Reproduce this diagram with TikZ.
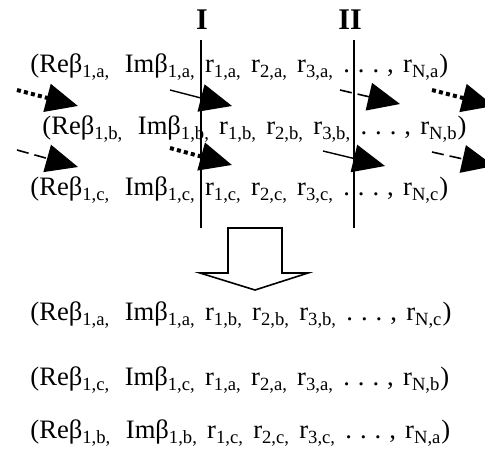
\documentclass[tikz,border=0pt]{standalone}
\usepackage{fontspec}
\setmainfont{Liberation Serif}
\usetikzlibrary{arrows.meta}
\newcommand{\sbs}[1]{\textsubscript{#1}}
% one string: beta letter, letter of r1..r3, letter of rN
\newcommand{\chrom}[3]{(Reβ\sbs{1,#1,}\hspace{0.55em}Imβ\sbs{1,#1,}\hspace{0.35em}r\sbs{1,#2,}\hspace{0.35em}r\sbs{2,#2,}\hspace{0.35em}r\sbs{3,#2,}\hspace{0.35em}.\hspace{0.3em}.\hspace{0.3em}.\hspace{0.3em},\hspace{0.35em}r\sbs{N,#3})}

\begin{document}
\begin{tikzpicture}[x=0.5pt,y=-0.5pt,
  every node/.style={inner sep=0pt, font=\fontsize{13.3}{16}\selectfont},
  bighead/.style={-{Triangle[length=16pt,width=14pt]}},
  thickdots/.style={bighead, line width=2pt, dash pattern=on 2pt off 1.6pt},
  thindash/.style={bighead, line width=0.8pt, dash pattern=on 6pt off 3pt},
  thinsolid/.style={bighead, line width=0.7pt}]
\useasboundingbox (0,0) rectangle (485,451);

% cut points
\node[font=\fontsize{15}{16}\selectfont\bfseries] (lblI) at (202,20) {I};
\node[font=\fontsize{15}{16}\selectfont\bfseries] (lblII) at (350,20) {II};
\draw[line width=0.7pt] (201,40) -- (201,228);
\draw[line width=0.7pt] (354,40) -- (354,228);

% parents
\node[anchor=west] (rowA) at (30,67) {\chrom{a}{a}{a}};
\node[anchor=west] (rowB) at (42,129) {\chrom{b}{b}{b}};
\node[anchor=west] (rowC) at (30,190) {\chrom{c}{c}{c}};

% exchange of segments
\draw[thickdots] (17,90) -- (78,106);
\draw[thinsolid] (170,90) -- (232,106);
\draw[thindash] (340,90) -- (400,104);
\draw[thickdots] (432,90) -- (494,106);
\draw[thindash] (17,150) -- (78,167);
\draw[thickdots] (170,148) -- (232,165);
\draw[thinsolid] (323,151) -- (385,166);
\draw[thindash] (432,152) -- (494,166);

% hollow arrow
\draw[line width=0.8pt] (228,228) -- (228,273) -- (200,273) -- (255,290)
  -- (308,273) -- (282,273) -- (282,228) -- cycle;

% offspring
\node[anchor=west] (outA) at (30,315) {\chrom{a}{b}{c}};
\node[anchor=west] (outB) at (30,380) {\chrom{c}{a}{b}};
\node[anchor=west] (outC) at (30,433) {\chrom{b}{c}{a}};
\end{tikzpicture}
\end{document}
